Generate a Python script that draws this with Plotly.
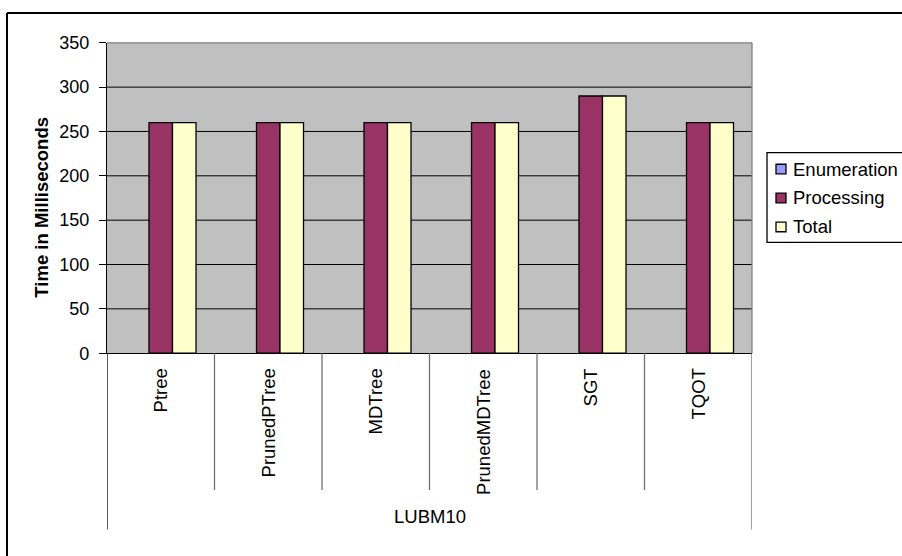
import plotly.graph_objects as go

W, H = 902, 556
FONT = "Liberation Sans, Arial, sans-serif"

categories = ["Ptree", "PrunedPTree", "MDTree", "PrunedMDTree", "SGT", "TQOT"]
group_label = "LUBM10"
series_names = ["Enumeration", "Processing", "Total"]
enumeration = [0, 0, 0, 0, 0, 0]
processing = [260, 260, 260, 260, 290, 260]
total = [260, 260, 260, 260, 290, 260]
colors = ["#9999FF", "#993366", "#FFFFCC"]
y_ticks = [0, 50, 100, 150, 200, 250, 300, 350]
y_title = "Time in Milliseconds"


def px(x):
    return x / W


def py(y):
    return 1 - y / H


fig = go.Figure()
for name, vals, col in zip(series_names, [enumeration, processing, total], colors):
    fig.add_trace(go.Bar(
        x=categories, y=vals, name=name,
        marker=dict(color=col, line=dict(color="#000000",
                                         width=0 if max(vals) == 0 else 1.3)),
        showlegend=False,
    ))

PL, PR, PT, PB = 107, 752, 34, 356

shapes = []
# plot area border (gray) on top and right
shapes.append(dict(type="line", xref="paper", yref="paper", x0=px(PL), x1=px(PR),
                   y0=py(PT), y1=py(PT), line=dict(color="#808080", width=1.3),
                   layer="above"))
shapes.append(dict(type="line", xref="paper", yref="paper", x0=px(PR), x1=px(PR),
                   y0=py(PB), y1=py(PT), line=dict(color="#808080", width=1.3),
                   layer="above"))
# gridlines (excluding the top edge)
for v in y_ticks[1:-1]:
    shapes.append(dict(type="line", xref="paper", yref="y", x0=px(PL), x1=px(PR),
                       y0=v, y1=v, line=dict(color="#000000", width=1),
                       layer="below"))
# category divider lines below axis
n = len(categories)
for k in range(n + 1):
    xpos = k - 0.5
    outer = k == 0 or k == n
    shapes.append(dict(type="line", xref="x", yref="paper", x0=xpos, x1=xpos,
                       y0=py(PB), y1=py(539 if outer else 498),
                       line=dict(color="#000000" if k == 0 else "#707070", width=1.3)))
# outer chart frame (top and left)
shapes.append(dict(type="line", xref="paper", yref="paper", x0=px(7), x1=px(910),
                   y0=py(3), y1=py(3), line=dict(color="#000000", width=2)))
shapes.append(dict(type="line", xref="paper", yref="paper", x0=px(7), x1=px(7),
                   y0=py(3), y1=py(570), line=dict(color="#000000", width=2)))

annotations = []
for c in categories:
    annotations.append(dict(x=c, xref="x", y=py(370), yref="paper", text=c,
                            textangle=-90, showarrow=False, xanchor="center",
                            yanchor="top", font=dict(family=FONT, size=18.5, color="#000")))
annotations.append(dict(x=(n - 1) / 2, xref="x", y=py(525), yref="paper", text=group_label,
                        showarrow=False, xanchor="center", yanchor="middle",
                        font=dict(family=FONT, size=18.5, color="#000")))
annotations.append(dict(x=px(42), y=py(205), xref="paper", yref="paper",
                        text="<b>" + y_title + "</b>", textangle=-90, showarrow=False,
                        xanchor="center", yanchor="middle",
                        font=dict(family=FONT, size=18.5, color="#000")))

# legend (drawn manually, Excel style)
LX0, LY0, LY1 = 767, 148, 241
shapes.append(dict(type="rect", xref="paper", yref="paper", x0=px(LX0), x1=px(920),
                   y0=py(LY1), y1=py(LY0), line=dict(color="#000000", width=1.3),
                   fillcolor="#FFFFFF"))
for i, (name, col) in enumerate(zip(series_names, colors)):
    cy = 165 + 30 * i
    shapes.append(dict(type="rect", xref="paper", yref="paper", x0=px(776), x1=px(786),
                       y0=py(cy + 5), y1=py(cy - 5), fillcolor=col,
                       line=dict(color="#000000", width=1.3)))
    annotations.append(dict(x=px(791), y=py(cy), xref="paper", yref="paper", text=name,
                            showarrow=False, xanchor="left", yanchor="middle",
                            font=dict(family=FONT, size=18.5, color="#000")))

fig.update_layout(
    width=W, height=H, autosize=False,
    margin=dict(l=0, r=0, t=0, b=0),
    paper_bgcolor="#FFFFFF", plot_bgcolor="#C0C0C0",
    barmode="group", bargap=0.344, bargroupgap=0,
    shapes=shapes, annotations=annotations,
    xaxis=dict(domain=[px(PL), px(PR)], type="category", range=[-0.5, n - 0.5],
               showticklabels=False, ticks="", showgrid=False, zeroline=False,
               showline=True, linecolor="#000000", linewidth=1.3),
    yaxis=dict(domain=[py(PB), py(PT)], range=[0, 350], tickvals=y_ticks,
               ticks="outside", ticklen=7, tickcolor="#000000", tickwidth=1.3,
               showline=True, linecolor="#000000", linewidth=1.3,
               showgrid=False, zeroline=False,
               ticklabelstandoff=6,
               tickfont=dict(family=FONT, size=18, color="#000000")),
)

fig.write_html("out.html")
